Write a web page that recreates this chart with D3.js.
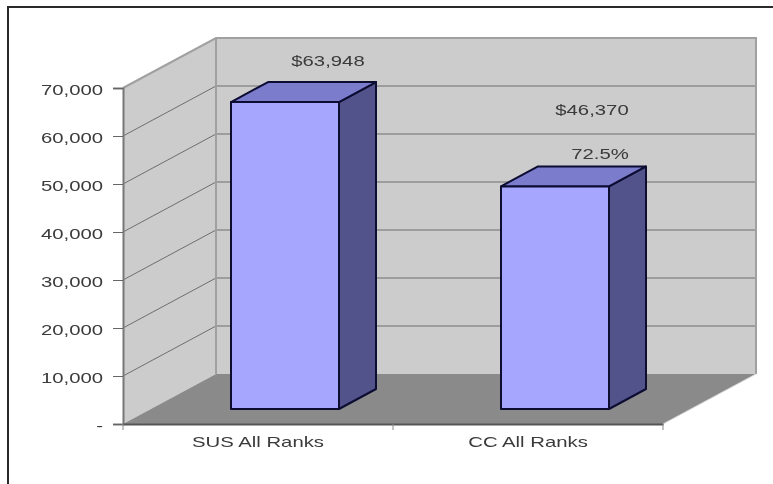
<!DOCTYPE html>
<html>
<head>
<meta charset="utf-8">
<script src="https://cdn.jsdelivr.net/npm/d3@7"></script>
<style>
  body { margin: 0; background: #fff; }
  text { font-family: "Liberation Sans", Arial, sans-serif; font-size: 14.5px; fill: #3a3a3a; }
</style>
</head>
<body>
<script>
// Werte
const categories = ["SUS All Ranks", "CC All Ranks"];
const values = [63948, 46370];
const valueLabels = ["$63,948", "$46,370"];
const ratioLabels = ["", "72.5%"];
const yTicks = [0, 10000, 20000, 30000, 40000, 50000, 60000, 70000];

const width = 773, height = 484;

const svg = d3.select("body").append("svg")
    .attr("width", width)
    .attr("height", height)
    .style("display", "block");

// leichte Unschaerfe wie im Original
svg.append("defs").append("filter")
    .attr("id", "soft")
    .append("feGaussianBlur")
    .attr("stdDeviation", 0.45);

const g = svg.append("g").attr("filter", "url(#soft)");

// Rahmen: nur oben und links sichtbar
g.append("path")
    .attr("d", "M8,484V7H773")
    .attr("fill", "none")
    .attr("stroke", "#2a2a2a")
    .attr("stroke-width", 2);

// Skalen (vordere Ebene)
const xScale = d3.scaleBand().domain(categories).range([123, 663]);
const yScale = d3.scaleLinear().domain([0, 70000]).range([424, 88]);

// Tiefe des 3D-Kastens
const depth = {dx: 93, dy: -50};
const yMax = 70000;
const x0 = xScale.range()[0], x1 = xScale.range()[1];

const pts = a => a.map(p => p.join(",")).join(" ");

// Seitenwand
g.append("polygon")
    .attr("points", pts([[x0, yScale(0)], [x0, yScale(yMax)], [x0 + depth.dx, yScale(yMax) + depth.dy], [x0 + depth.dx, yScale(0) + depth.dy]]))
    .attr("fill", "#cccccc");

// Rueckwand
g.append("polygon")
    .attr("points", pts([[x0 + depth.dx, yScale(0) + depth.dy], [x0 + depth.dx, yScale(yMax) + depth.dy], [x1 + depth.dx, yScale(yMax) + depth.dy], [x1 + depth.dx, yScale(0) + depth.dy]]))
    .attr("fill", "#cccccc");

// Boden
g.append("polygon")
    .attr("points", pts([[x0, yScale(0)], [x0 + depth.dx, yScale(0) + depth.dy], [x1 + depth.dx, yScale(0) + depth.dy], [x1, yScale(0)]]))
    .attr("fill", "#8a8a8a");

// Gitterlinien
const grid = g.append("g").attr("fill", "none").attr("stroke", "#6e6e6e").attr("stroke-width", 1);
grid.selectAll("polyline")
    .data(yTicks.slice(1, -1))
    .join("polyline")
    .attr("points", d => pts([[x0, yScale(d)], [x0 + depth.dx, yScale(d) + depth.dy], [x1 + depth.dx, yScale(d) + depth.dy]]));

// Kanten der Waende
g.append("path")
    .attr("d", `M${x0},${yScale(yMax)}L${x0 + depth.dx},${yScale(yMax) + depth.dy}H${x1 + depth.dx}V${yScale(0) + depth.dy}`)
    .attr("fill", "none").attr("stroke", "#a0a0a0").attr("stroke-width", 2);
g.append("path")
    .attr("d", `M${x0 + depth.dx},${yScale(yMax) + depth.dy}V${yScale(0) + depth.dy}`)
    .attr("fill", "none").attr("stroke", "#a0a0a0").attr("stroke-width", 2);
g.append("path")
    .attr("d", `M${x1},${yScale(0)}L${x1 + depth.dx},${yScale(0) + depth.dy}`)
    .attr("fill", "none").attr("stroke", "#d8d8d8").attr("stroke-width", 1);

// Saeulen
const barWidth = xScale.bandwidth() * 0.4;
const barFront = {dx: 27, dy: -15};
const barDepth = {dx: 37, dy: -20};

const bars = g.selectAll("g.bar")
    .data(categories.map((c, i) => ({c, v: values[i]})))
    .join("g")
    .attr("class", "bar")
    .attr("stroke", "#0b0b33")
    .attr("stroke-width", 2)
    .attr("stroke-linejoin", "round");

const bx = d => xScale(d.c) + (xScale.bandwidth() - barWidth) / 2 + barFront.dx;
const by0 = () => yScale(0) + barFront.dy;
const byt = d => yScale(d.v) + barFront.dy;

bars.append("polygon")
    .attr("fill", "#53538c")
    .attr("points", d => pts([[bx(d) + barWidth, by0()], [bx(d) + barWidth, byt(d)], [bx(d) + barWidth + barDepth.dx, byt(d) + barDepth.dy], [bx(d) + barWidth + barDepth.dx, by0() + barDepth.dy]]));
bars.append("polygon")
    .attr("fill", "#7b7bcc")
    .attr("points", d => pts([[bx(d), byt(d)], [bx(d) + barDepth.dx, byt(d) + barDepth.dy], [bx(d) + barWidth + barDepth.dx, byt(d) + barDepth.dy], [bx(d) + barWidth, byt(d)]]));
bars.append("rect")
    .attr("fill", "#a6a6ff")
    .attr("x", bx)
    .attr("y", byt)
    .attr("width", barWidth)
    .attr("height", d => by0() - byt(d));

// Text im Original horizontal gestreckt
function stretch(sel) {
    sel.attr("textLength", function() { return this.getComputedTextLength() * 1.4; })
        .attr("lengthAdjust", "spacingAndGlyphs");
}

// Achsen
const yAxis = g.append("g")
    .attr("transform", `translate(${x0},0)`)
    .call(d3.axisLeft(yScale).tickValues(yTicks).tickSize(10).tickPadding(10)
        .tickFormat(d => d === 0 ? "-" : d3.format(",")(d)));
const xAxis = g.append("g")
    .attr("transform", `translate(0,${yScale(0)})`)
    .call(d3.axisBottom(xScale).tickSize(0).tickPadding(13));

yAxis.select(".domain").attr("stroke", "#777").attr("stroke-width", 2);
yAxis.selectAll("line").attr("stroke", "#666");
xAxis.select(".domain").attr("stroke", "#555").attr("stroke-width", 2);

// Trennstriche an der x-Achse
xAxis.selectAll("line.sep")
    .data([x0, xScale(categories[1]), x1])
    .join("line")
    .attr("class", "sep")
    .attr("x1", d => d).attr("x2", d => d)
    .attr("y1", 0).attr("y2", 6)
    .attr("stroke", "#888");

yAxis.selectAll("text").attr("font-size", null).attr("font-family", null).attr("fill", null).attr("y", 1.5).call(stretch);
xAxis.selectAll("text").attr("font-size", null).attr("font-family", null).attr("fill", null).call(stretch);

// Wertebeschriftung
g.append("g").selectAll("text")
    .data(valueLabels)
    .join("text")
    .attr("text-anchor", "middle")
    .attr("x", (d, i) => xScale(categories[i]) + xScale.bandwidth() / 2 + [70, 64][i])
    .attr("y", (d, i) => yScale(values[i]) + [-51, -86][i])
    .text(d => d)
    .call(stretch);

g.append("g").selectAll("text")
    .data(ratioLabels)
    .join("text")
    .attr("text-anchor", "middle")
    .attr("x", (d, i) => xScale(categories[i]) + xScale.bandwidth() / 2 + 72)
    .attr("y", (d, i) => yScale(values[i]) - 42)
    .text(d => d)
    .call(stretch);
</script>
</body>
</html>
